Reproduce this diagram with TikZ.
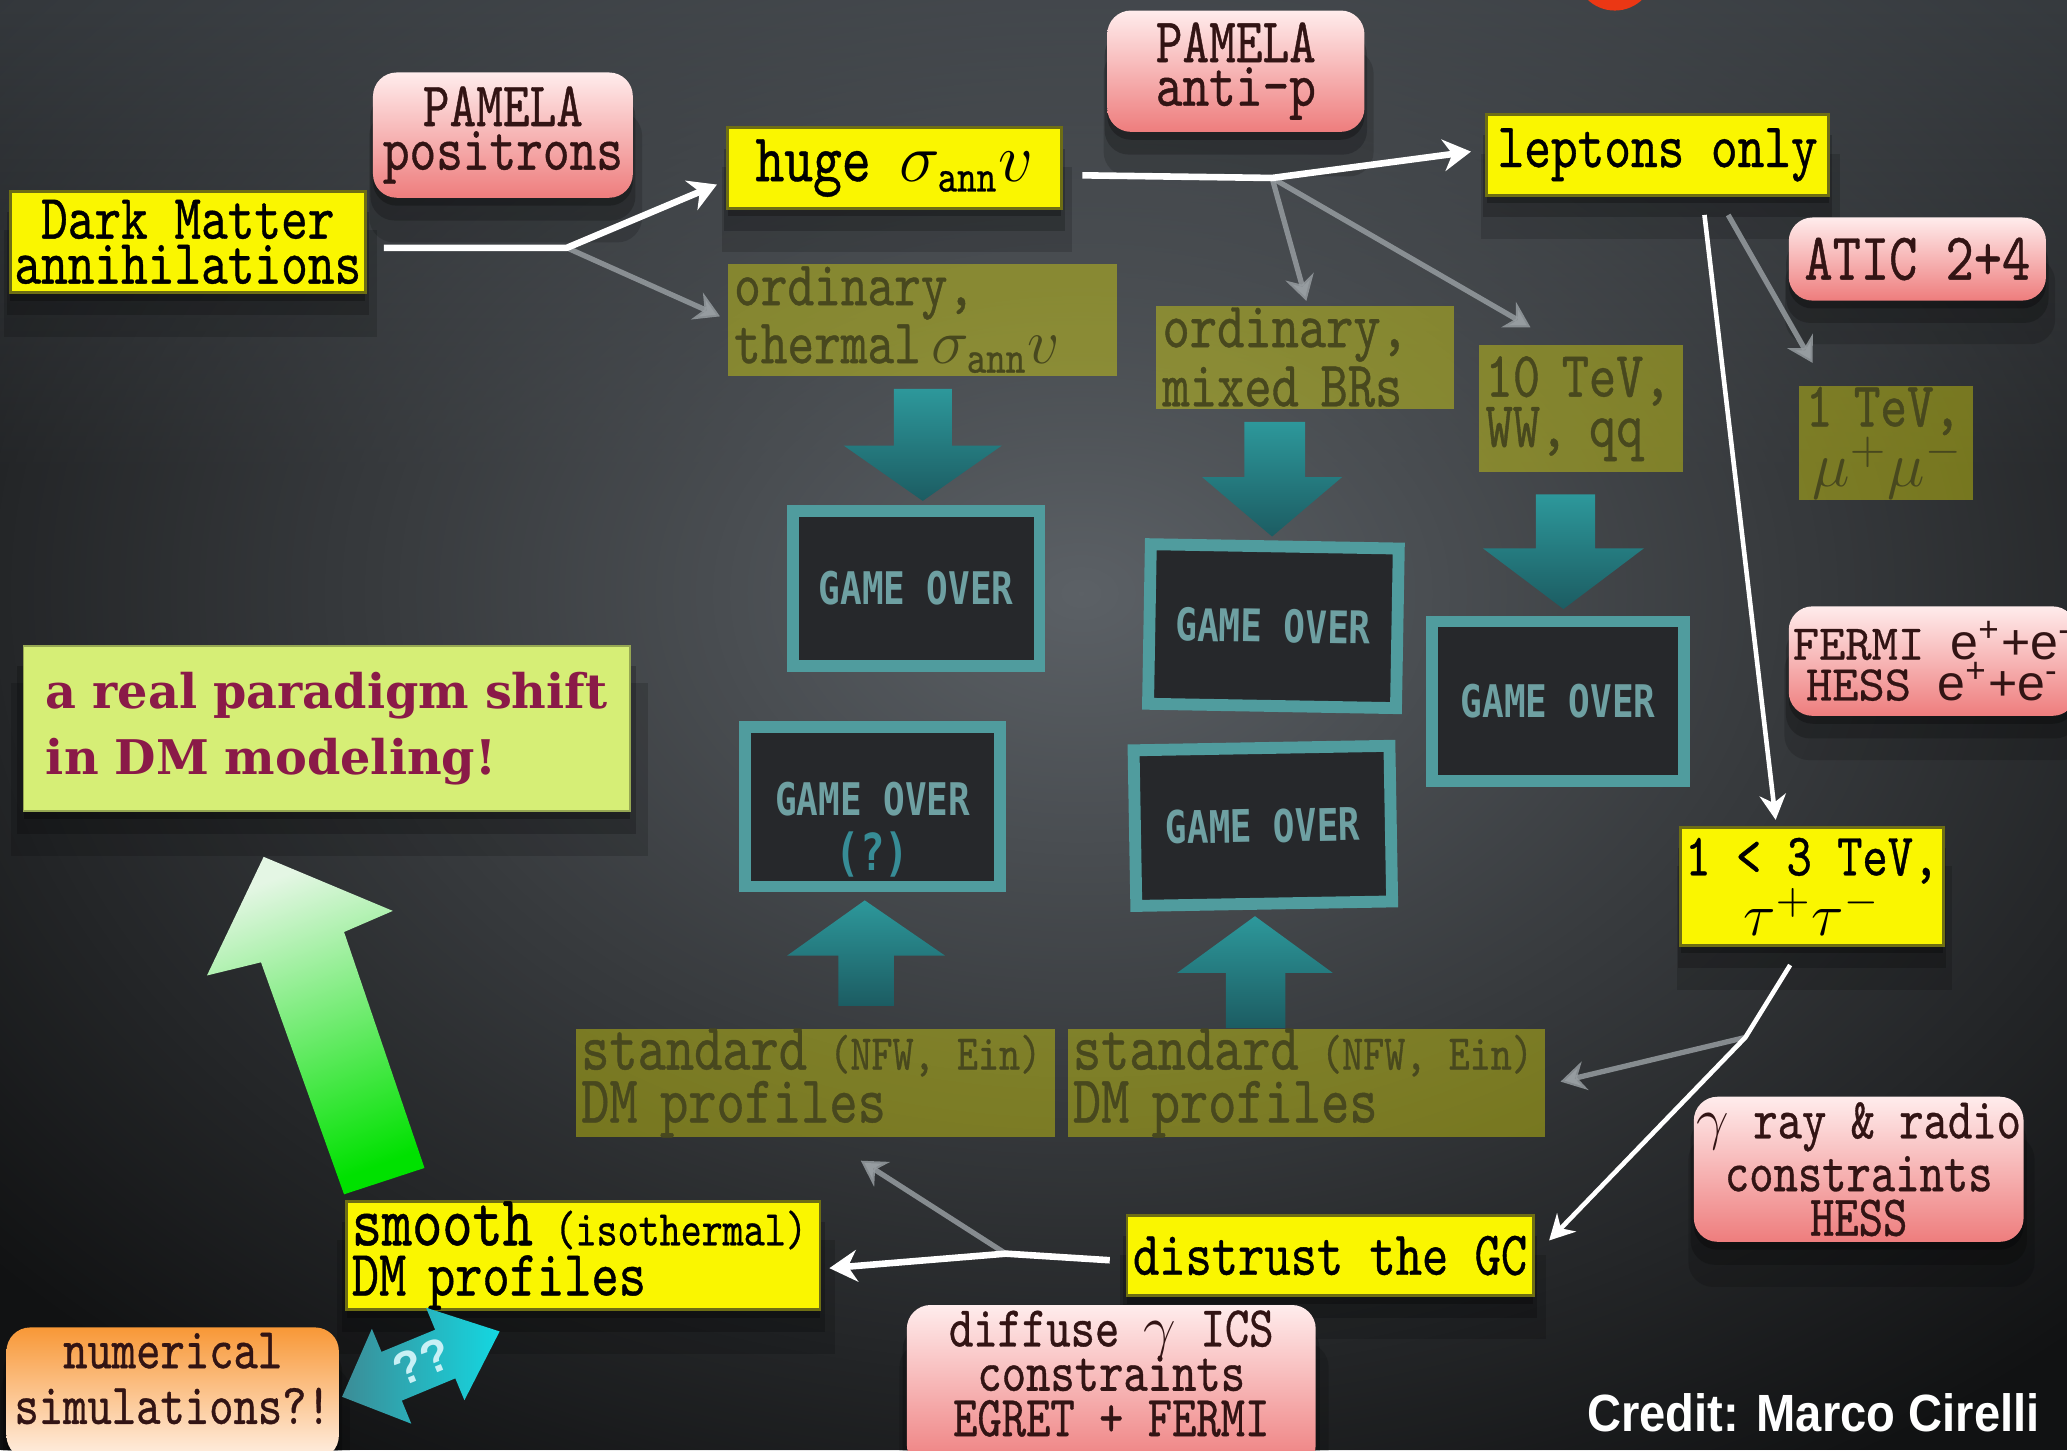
\documentclass[tikz,border=0pt]{standalone}
\usepackage{fix-cm}
\usepackage{fontspec}
\usetikzlibrary{arrows.meta,shadows,fadings}
\newfontfamily\tw{lmmono10-regular.otf}[FakeStretch=0.8,FakeBold=0.6]
\newfontfamily\twn{lmmono10-regular.otf}[FakeBold=0.5]
\newfontfamily\slab{DejaVu Serif}
\newfontfamily\credf{Liberation Sans}[FakeStretch=0.9]
\newfontfamily\arf{Liberation Sans}
\newfontfamily\gof{DejaVu Sans Mono}[FakeStretch=0.8]
\newcommand\fsz[2]{\fontsize{#1}{#2}\selectfont}
\newcommand\annsub{\mbox{\tw\fsz{10}{10}ann}}
\definecolor{yel}{RGB}{250,246,0}
\definecolor{yelb}{RGB}{110,110,20}
\definecolor{olvt}{RGB}{72,72,30}
\definecolor{pinkt}{RGB}{255,236,236}
\definecolor{pinkb}{RGB}{238,125,125}
\definecolor{pinktext}{RGB}{50,20,20}
\definecolor{orgt}{RGB}{248,152,55}
\definecolor{orgb}{RGB}{255,240,228}
\definecolor{lime}{RGB}{214,238,118}
\definecolor{maroon}{RGB}{138,26,72}
\definecolor{tealA}{RGB}{45,152,155}
\definecolor{tealB}{RGB}{28,92,98}
\definecolor{goframe}{RGB}{80,156,158}
\definecolor{goin}{RGB}{38,40,43}
\definecolor{gotext}{RGB}{110,160,162}
\definecolor{goq}{RGB}{55,140,150}
\definecolor{wgray}{RGB}{150,156,160}
\definecolor{bgdark}{RGB}{17,18,19}
\definecolor{bgtop}{RGB}{50,54,58}
\definecolor{bgmid}{RGB}{92,97,102}
\definecolor{grT}{RGB}{228,246,228}
\definecolor{grM}{RGB}{130,240,130}
\definecolor{grB}{RGB}{0,225,0}
\definecolor{qA}{RGB}{60,140,150}
\definecolor{qB}{RGB}{20,215,225}
\definecolor{qT}{RGB}{200,240,245}
\definecolor{blobred}{RGB}{235,55,20}
\tikzfading[name=glow, inner color=transparent!0, outer color=transparent!100]
\tikzfading[name=topfade, top color=transparent!0, bottom color=transparent!100]
\tikzset{
 shad/.style={drop shadow={shadow xshift=0cm,shadow yshift=-0.06cm,opacity=0.25,fill=black},
              drop shadow={shadow xshift=0cm,shadow yshift=-0.16cm,opacity=0.2,fill=black,shadow scale=1.02},
              drop shadow={shadow xshift=0.02cm,shadow yshift=-0.3cm,opacity=0.15,fill=black,shadow scale=1.05}},
 ybox/.style={shad, fill=yel, draw=yelb, line width=0.6pt, inner sep=0pt, align=center, text=black},
 pbox/.style={shad, rounded corners=0.18cm, top color=pinkt, bottom color=pinkb, inner sep=0pt, align=center, text=pinktext},
 obox/.style={fill=yel, fill opacity=0.36, text opacity=1, text=olvt, inner xsep=0.05cm, inner ysep=0pt, align=left},
 gobox/.style={draw=goframe, line width=0.09cm, fill=goin, inner sep=0pt, text=gotext, font={\gof\bfseries\fsz{9.7}{12}}, align=center},
 wline/.style={draw=white, line width=0.05cm, line join=round, -{Stealth[length=0.21cm,width=0.24cm]}},
 wthin/.style={draw=white, line width=0.035cm, line join=round, -{Stealth[length=0.19cm,width=0.2cm]}},
 gline/.style={draw=wgray, draw opacity=0.85, line width=0.04cm, -{Stealth[length=0.19cm,width=0.22cm]}},
 tealar/.style={top color=tealA, bottom color=tealB, draw=none}
}
\begin{document}
\begin{tikzpicture}[x=0.01cm, y=-0.01cm]
\useasboundingbox (0,0) rectangle (1568,1100);
\clip (0,0) rectangle (1568,1100);
% background
\fill[bgdark] (0,0) rectangle (1568,1100);
\fill[bgtop, path fading=topfade] (0,0) rectangle (1568,360);
\fill[bgmid, path fading=glow] (820,450) ellipse (1100 and 780);
\fill[blobred] (1225,-22) circle (30);

% faded (olive) boxes
\node[obox, text width=2.85cm, minimum height=0.85cm, font={\tw\fsz{13.7}{10.5}}] (therm) at (699.5,242.5) {ordinary,\\thermal\,$\sigma_{\annsub}v$};
\node[obox, text width=2.16cm, minimum height=0.78cm, font={\tw\fsz{14}{11.4}}] (mixed) at (990,271) {ordinary,\\mixed BRs};
\node[obox, text width=1.45cm, minimum height=0.96cm, font={\tw\fsz{14}{10.8}}] (tev10) at (1199.5,310) {10 TeV,\\WW, qq};
\node[obox, text width=1.22cm, minimum height=0.87cm, font={\tw\fsz{13.7}{13}}] (tev1) at (1431,336) {1 TeV,\\\hspace*{0.05cm}$\mu^+\mu^-$};
\node[obox, text width=3.55cm, inner xsep=0.04cm, minimum height=0.77cm, font={\tw\fsz{14.5}{11.4}}] (std1) at (618.5,821.5) {\mbox{standard {\fsz{10.8}{10}(NFW, Ein)}}\\DM profiles};
\node[obox, text width=3.54cm, inner xsep=0.04cm, minimum height=0.77cm, font={\tw\fsz{14.5}{11.4}}] (std2) at (991,821.5) {\mbox{standard {\fsz{10.8}{10}(NFW, Ein)}}\\DM profiles};

% teal block arrows
\shade[tealar] (678,295) -- (722,295) -- (722,338) -- (760,338) -- (700,380) -- (640,338) -- (678,338) -- cycle;
\shade[tealar] (944,320) -- (990,320) -- (990,362) -- (1018,362) -- (965,407) -- (912,362) -- (944,362) -- cycle;
\shade[tealar] (1165,375) -- (1210,375) -- (1210,416) -- (1247,416) -- (1186,462) -- (1125,416) -- (1165,416) -- cycle;
\shade[tealar] (656,683) -- (717,725) -- (678,725) -- (678,763) -- (636,763) -- (636,725) -- (597,725) -- cycle;
\shade[tealar] (952,695) -- (1011,738) -- (975,738) -- (975,780) -- (930,780) -- (930,738) -- (893,738) -- cycle;

% game over boxes
\node[gobox, minimum width=1.87cm, minimum height=1.18cm] (go1) at (695,446.5) {GAME OVER};
\node[gobox, minimum width=1.88cm, minimum height=1.21cm, rotate=-1] (go2) at (966,475) {GAME OVER};
\node[gobox, minimum width=1.91cm, minimum height=1.21cm] (go3) at (1182,532) {GAME OVER};
\node[gobox, minimum width=1.93cm, minimum height=1.21cm] (go4) at (662,612) {\raisebox{0.06cm}[\height][\depth]{GAME OVER}};
\node[text=goq, font={\gof\bfseries\fsz{11}{11}}] (go4q) at (662,648) {(?)};
\node[gobox, minimum width=1.94cm, minimum height=1.18cm, rotate=1] (go5) at (958,626.5) {GAME OVER};

% solid boxes
\node[ybox, minimum width=2.69cm, minimum height=0.77cm, font={\tw\fsz{13.7}{9.7}}] (dm) at (142.5,183.5) {Dark Matter\\annihilations};
\node[pbox, minimum width=1.97cm, minimum height=0.95cm, font={\tw\fsz{13.7}{9.4}}] (pos) at (381.5,102.5) {PAMELA\\positrons};
\node[ybox, minimum width=2.53cm, minimum height=0.61cm, font={\tw\fsz{14.8}{12}}] (huge) at (678.5,127.5) {huge $\sigma_{\annsub}v$};
\node[pbox, minimum width=1.95cm, minimum height=0.92cm, font={\tw\fsz{13.7}{9.4}}] (antip) at (937.5,54) {PAMELA\\anti-p};
\node[ybox, minimum width=2.59cm, minimum height=0.61cm, font={\tw\fsz{13.7}{12}}] (lep) at (1257.5,117.5) {leptons only};
\node[pbox, minimum width=1.95cm, minimum height=0.63cm, font={\tw\fsz{14.5}{12}}] (atic) at (1454.5,196.5) {ATIC 2+4};
\node[pbox, minimum width=2.18cm, minimum height=0.83cm, font={\twn\fsz{10.8}{8.8}}] (fermi) at (1466,501.5) {FERMI {\arf e\textsuperscript{+}+e\textsuperscript{-}}\\HESS {\arf e\textsuperscript{+}+e\textsuperscript{-}}};
\node[ybox, minimum width=1.99cm, minimum height=0.89cm, font={\tw\fsz{13}{11.2}}] (tau) at (1374.5,672.5) {1 < 3 TeV,\\$\tau^+\tau^-$};
\node[pbox, minimum width=2.5cm, minimum height=1.1cm, font={\tw\fsz{12.5}{9.6}}] (gray) at (1410,887) {$\gamma$ ray \& radio\\constraints\\HESS};
\node[ybox, minimum width=3.08cm, minimum height=0.61cm, font={\tw\fsz{13.5}{12}}] (gc) at (1009,952.5) {distrust the GC};
\node[pbox, minimum width=3.1cm, minimum height=1.24cm, font={\tw\fsz{12.5}{10}}] (diff) at (843,1052) {\raisebox{0.05cm}[\height][\depth]{\begin{tabular}{@{}c@{}}diffuse $\gamma$ ICS\\[-1pt]constraints\\[-1pt]EGRET + FERMI\end{tabular}}};
\node[ybox, align=left, text width=3.51cm, inner xsep=0.04cm, minimum height=0.75cm, font={\tw\fsz{14}{10.8}}] (smooth) at (442.5,952.5) {\mbox{{\fsz{15.5}{10.8}smooth} {\fsz{10.8}{10}(isothermal)}}\\DM profiles};
\node[shad, rounded corners=0.18cm, top color=orgt, bottom color=orgb, inner sep=0pt, align=center, text=pinktext, minimum width=2.52cm, minimum height=1.0cm, font={\tw\fsz{12.5}{11.4}}] (num) at (131,1057) {\raisebox{0.06cm}[\height][\depth]{\begin{tabular}{@{}c@{}}numerical\\[0.6pt]simulations?!\end{tabular}}};
\node[shad, fill=lime, draw=lime!70!black, line width=0.4pt, align=left, text=maroon, text width=4.26cm, inner xsep=0.17cm, minimum height=1.25cm, font={\slab\bfseries\fsz{10.3}{14.2}}] (para) at (248,552.5) {a real paradigm shift\\in DM modeling!};

% connectors
\coordinate (b1) at (430,188);
\coordinate (b2) at (965,135);
\coordinate (b3) at (1324,787);
\coordinate (b4) at (763,951);
\draw[gline] (b1) -- ([shift={(-5,-2.5)}]therm.west);
\draw[gline] (b2) -- ([shift={(1,-3)}]mixed.north);
\draw[gline] (b2) -- ([shift={(-38.5,-13)}]tev10.north);
\draw[gline] ([shift={(53.5,14)}]lep.south) -- ([shift={(-56,-16.5)}]tev1.north);
\draw[gline] (b3) -- ([shift={(11,-1)}]std2.east);
\draw[gline] (b4) -- ([shift={(34.5,17)}]std1.south);
\draw[wline] ([shift={(13,4.5)}]dm.east) -- (b1) -- ([shift={(-7,12.5)}]huge.west);
\draw[wline] ([shift={(15,5.5)}]huge.east) -- (b2) -- ([shift={(-11,-2.5)}]lep.west);
\draw[wthin] ([shift={(35.5,14)}]lep.south) -- ([shift={(-27.5,-5)}]tau.north);
\draw[wthin] ([shift={(-16.5,14)}]tau.south) -- (b3) -- ([shift={(11,-11.5)}]gc.east);
\draw[wline] ([shift={(-12,3.5)}]gc.west) -- (b4) -- ([shift={(6,9.5)}]smooth.east);

% big green arrow
\shade[top color=grT, middle color=grM, bottom color=grB, shading angle=20] (200,650) -- (298,691) -- (261,707) -- (322,886) -- (261,906) -- (198,730) -- (157,740) -- cycle;

% double arrow with ??
\shade[left color=qA, right color=qB] (259.5,1059.6) -- (312,1080) -- (304.8,1062.5) -- (345.4,1045.6) -- (352.3,1062.2) -- (379,1010) -- (323.2,992) -- (330.1,1008.7) -- (289.4,1025.5) -- (282.1,1008) -- cycle;
\node[rotate=22.5, text=qT, font={\arf\bfseries\fsz{10}{10}}] (qq) at (320,1033) {??};

% credit
\node[anchor=east, inner sep=0pt, text=white, font={\credf\bfseries\fsz{11.3}{12}}] (credit) at (1548,1072) {Credit: Marco Cirelli};
\end{tikzpicture}
\end{document}
